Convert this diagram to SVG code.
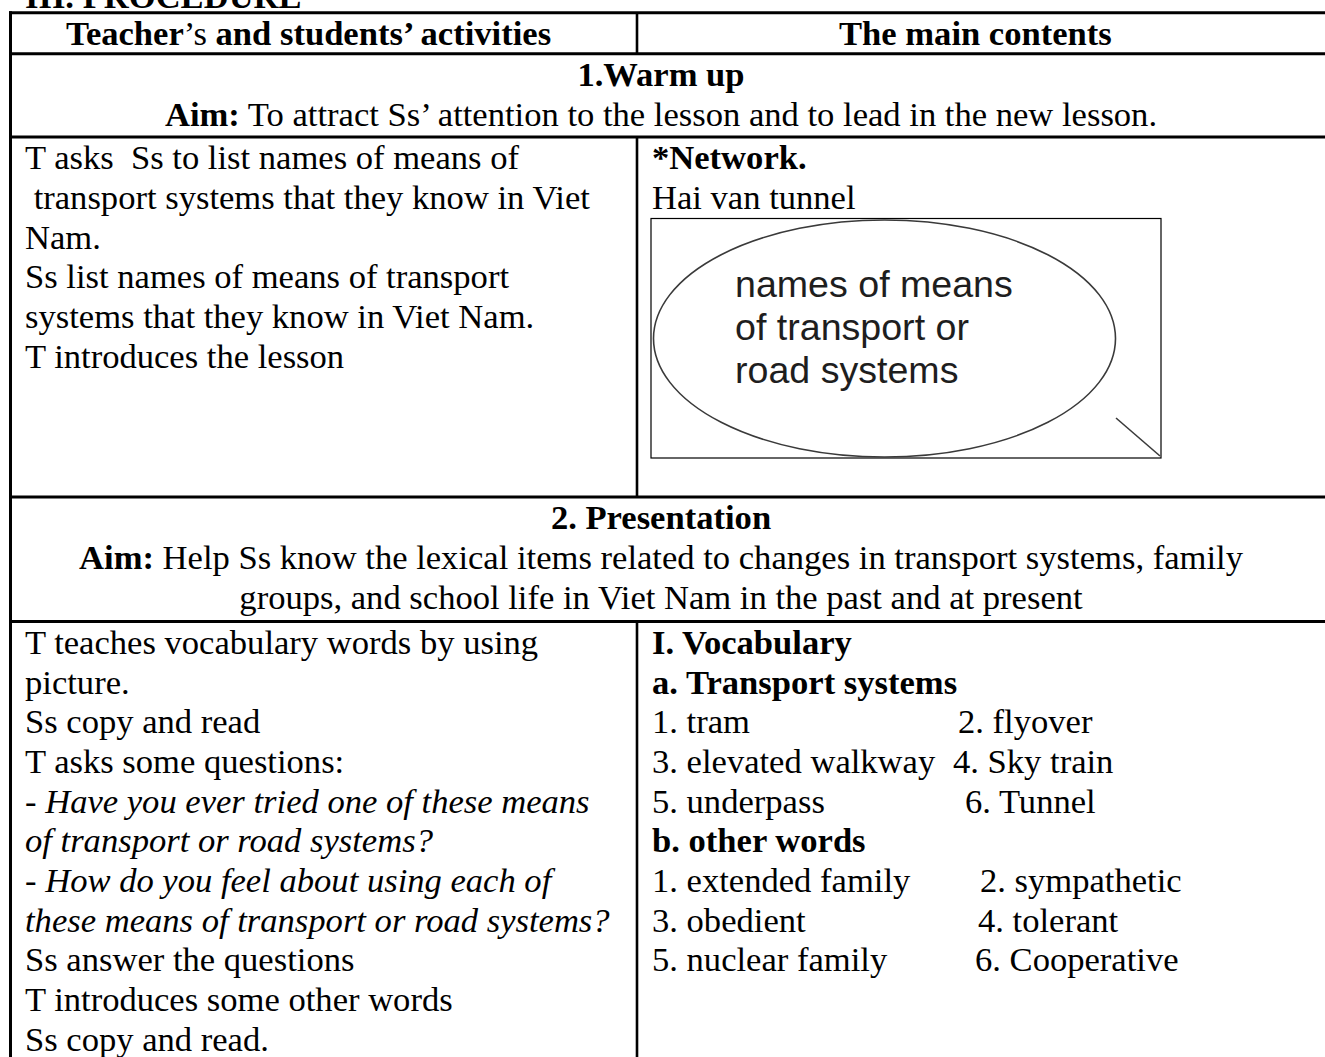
<svg xmlns="http://www.w3.org/2000/svg" width="1325" height="1057" viewBox="0 0 1325 1057">
<style>
.t{font-family:"Liberation Serif","Times New Roman",serif;font-size:34.6px;fill:#000}
.b{font-weight:bold}
.i{font-style:italic}
.c{text-anchor:middle}
.ln{stroke:#000;stroke-width:3;fill:none}
.vl{stroke:#000;stroke-width:2.6;fill:none}
.bub{font-family:"Liberation Sans",Arial,sans-serif;font-size:37.6px;fill:#1e1e1e}
</style>
<rect width="1325" height="1057" fill="#fff"/>
<g id="title"><text class="t b" x="25" y="8">III. PROCEDURE</text></g>
<g id="grid">
<line class="ln" x1="9" y1="12.7" x2="1325" y2="12.7"/>
<line class="ln" x1="9" y1="53.7" x2="1325" y2="53.7"/>
<line class="ln" x1="9" y1="137" x2="1325" y2="137"/>
<line class="ln" x1="9" y1="497" x2="1325" y2="497"/>
<line class="ln" x1="9" y1="621.5" x2="1325" y2="621.5"/>
<line class="ln" x1="10.5" y1="11.2" x2="10.5" y2="1057"/>
<line class="vl" x1="637" y1="12.7" x2="637" y2="53.7"/>
<line class="vl" x1="637" y1="137" x2="637" y2="497"/>
<line class="vl" x1="637" y1="621.5" x2="637" y2="1057"/>
</g>
<g id="header-left"><text class="t b" x="66" y="45">Teacher<tspan font-weight="normal">’s</tspan> and students’ activities</text></g>
<g id="header-right"><text class="t b" x="839" y="45">The main contents</text></g>
<g id="warmup-title">
<text class="t b c" x="661" y="86">1.Warm up</text>
<text class="t c" x="661" y="125.7"><tspan class="b">Aim:</tspan> To attract Ss’ attention to the lesson and to lead in the new lesson.</text>
</g>
<g id="warmup-activities">
<text class="t" x="25" y="169.3" xml:space="preserve">T asks  Ss to list names of means of</text>
<text class="t" x="25" y="209" xml:space="preserve"> transport systems that they know in Viet</text>
<text class="t" x="25" y="248.7">Nam.</text>
<text class="t" x="25" y="288.4">Ss list names of means of transport</text>
<text class="t" x="25" y="328.1">systems that they know in Viet Nam.</text>
<text class="t" x="25" y="367.8">T introduces the lesson</text>
</g>
<g id="warmup-contents">
<text class="t b" x="652" y="169.3">*Network.</text>
<text class="t" x="652" y="209">Hai van tunnel</text>
<g id="network-picture">
<rect x="651" y="218.5" width="510" height="239.5" fill="#fff" stroke="#000" stroke-width="1.2"/>
<ellipse cx="884.5" cy="338.5" rx="231" ry="118.5" fill="none" stroke="#3a3a3a" stroke-width="1.6"/>
<line x1="1116" y1="418" x2="1160" y2="456" stroke="#3a3a3a" stroke-width="1.6"/>
<text class="bub" x="735" y="297">names of means</text>
<text class="bub" x="735" y="340">of transport or</text>
<text class="bub" x="735" y="383">road systems</text>
</g>
</g>
<g id="presentation-title">
<text class="t b c" x="661" y="529.3">2. Presentation</text>
<text class="t c" x="661" y="569"><tspan class="b">Aim:</tspan> Help Ss know the lexical items related to changes in transport systems, family</text>
<text class="t c" x="661" y="608.7">groups, and school life in Viet Nam in the past and at present</text>
</g>
<g id="presentation-activities">
<text class="t" x="25" y="653.8">T teaches vocabulary words by using</text>
<text class="t" x="25" y="693.5">picture.</text>
<text class="t" x="25" y="733.2">Ss copy and read</text>
<text class="t" x="25" y="772.9">T asks some questions:</text>
<text class="t i" x="25" y="812.6">- Have you ever tried one of these means</text>
<text class="t i" x="25" y="852.3">of transport or road systems?</text>
<text class="t i" x="25" y="892">- How do you feel about using each of</text>
<text class="t i" x="25" y="931.7">these means of transport or road systems?</text>
<text class="t" x="25" y="971.4">Ss answer the questions</text>
<text class="t" x="25" y="1011.1">T introduces some other words</text>
<text class="t" x="25" y="1050.8">Ss copy and read.</text>
</g>
<g id="presentation-contents">
<text class="t b" x="652" y="653.8">I. Vocabulary</text>
<text class="t b" x="652" y="693.5">a. Transport systems</text>
<text class="t" x="652" y="733.2">1. tram</text><text class="t" x="958" y="733.2">2. flyover</text>
<text class="t" x="652" y="772.9">3. elevated walkway</text><text class="t" x="953" y="772.9">4. Sky train</text>
<text class="t" x="652" y="812.6">5. underpass</text><text class="t" x="965" y="812.6">6. Tunnel</text>
<text class="t b" x="652" y="852.3">b. other words</text>
<text class="t" x="652" y="892">1. extended family</text><text class="t" x="980" y="892">2. sympathetic</text>
<text class="t" x="652" y="931.7">3. obedient</text><text class="t" x="978" y="931.7">4. tolerant</text>
<text class="t" x="652" y="971.4">5. nuclear family</text><text class="t" x="975" y="971.4">6. Cooperative</text>
</g>
</svg>
